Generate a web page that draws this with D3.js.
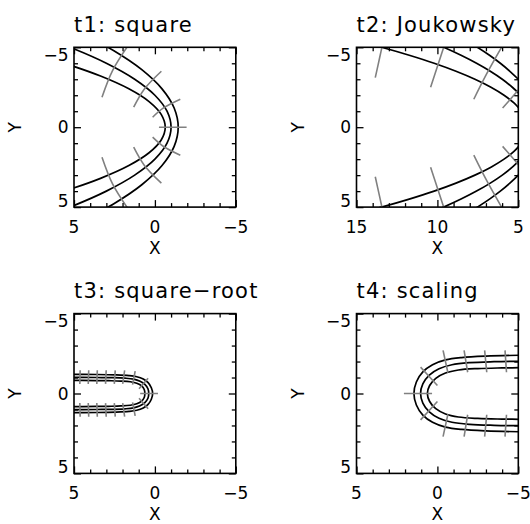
<!DOCTYPE html>
<html>
<head>
<meta charset="utf-8">
<script src="https://cdn.jsdelivr.net/npm/d3@7"></script>
<style>
  body { margin: 0; background: #fff; }
  svg { display: block; }
  text { font-family: "DejaVu Sans", sans-serif; fill: #000; }
</style>
</head>
<body>
<svg id="chart" width="530" height="524"></svg>
<script>
// ---- data ----

const titles = ['t1: square', 't2: Joukowsky', 't3: square\u2212root', 't4: scaling']
const xDomains = [[5, -5], [15, 5], [5, -5], [5, -5]]
const xMajor = [[5, 0, -5], [15, 10, 5], [5, 0, -5], [5, 0, -5]]
const yDomain = [-5, 5]
const yMajor = [-5, 0, 5]

// black curves, [x, y] in data units
const p1Curves = [
  [[8.36,-4.8],[5.61,-4],[3.36,-3.2],[1.61,-2.4],[0.36,-1.6],[-0.39,-0.8],[-0.64,0],[-0.39,0.8],[0.36,1.6],[1.61,2.4],[3.36,3.2],[5.61,4],[8.36,4.8]],
  [[8,-6],[5.25,-5],[3,-4],[1.25,-3],[0,-2],[-0.75,-1],[-1,0],[-0.75,1],[0,2],[1.25,3],[3,4],[5.25,5],[8,6]],
  [[4.81,-6],[2.56,-4.8],[0.81,-3.6],[-0.44,-2.4],[-1.19,-1.2],[-1.44,0],[-1.19,1.2],[-0.44,2.4],[0.81,3.6],[2.56,4.8],[4.81,6]]
]
const p2Curves = [
  [[15.34,-5.5],[13.45,-5],[11.74,-4.5],[10.2,-4],[8.85,-3.5],[7.68,-3],[6.69,-2.5],[5.88,-2],[5.25,-1.5],[4.8,-1]],
  [[15.34,5.5],[13.45,5],[11.74,4.5],[10.2,4],[8.85,3.5],[7.68,3],[6.69,2.5],[5.88,2],[5.25,1.5],[4.8,1]],
  [[10.8,-5.5],[9.61,-5],[8.54,-4.5],[7.58,-4],[6.73,-3.5],[5.99,-3],[5.37,-2.5],[4.86,-2],[4.47,-1.5]],
  [[10.8,5.5],[9.61,5],[8.54,4.5],[7.58,4],[6.73,3.5],[5.99,3],[5.37,2.5],[4.86,2],[4.47,1.5]],
  [[8.36,-5.5],[7.53,-5],[6.78,-4.5],[6.11,-4],[5.52,-3.5],[5,-3],[4.57,-2.5]],
  [[8.36,5.5],[7.53,5],[6.78,4.5],[6.11,4],[5.52,3.5],[5,3],[4.57,2.5]]
]
const p3Curves = [
  [[5.5,-1.2],[3.6,-1.19],[2.4,-1.165],[1.6,-1.12],[1.12,-1.05],[0.72,-0.9],[0.42,-0.68],[0.22,-0.36],[0.14,0],[0.22,0.36],[0.42,0.68],[0.72,0.9],[1.12,1.05],[1.6,1.12],[2.4,1.165],[3.6,1.19],[5.5,1.2]],
  [[5.5,-1.01],[3.6,-1],[2.6,-0.99],[1.85,-0.96],[1.32,-0.9],[0.92,-0.77],[0.62,-0.57],[0.43,-0.3],[0.38,0],[0.43,0.3],[0.62,0.57],[0.92,0.77],[1.32,0.9],[1.85,0.96],[2.6,0.99],[3.6,1],[5.5,1.01]],
  [[5.5,-0.82],[3.6,-0.81],[2.85,-0.8],[2.1,-0.78],[1.52,-0.735],[1.12,-0.64],[0.82,-0.475],[0.66,-0.25],[0.62,0],[0.66,0.25],[0.82,0.475],[1.12,0.64],[1.52,0.735],[2.1,0.78],[2.85,0.8],[3.6,0.81],[5.5,0.82]]
]
const p4Curves = [
  [[-5.5,-2.4],[-3,-2.34],[-1.5,-2.25],[-0.5,-2.1],[0.3,-1.8],[0.9,-1.35],[1.3,-0.72],[1.45,0],[1.3,0.72],[0.9,1.35],[0.3,1.8],[-0.5,2.1],[-1.5,2.25],[-3,2.34],[-5.5,2.4]],
  [[-5.5,-2.02],[-3.5,-1.99],[-2,-1.93],[-0.9,-1.8],[-0.1,-1.55],[0.5,-1.15],[0.9,-0.6],[1.04,0],[0.9,0.6],[0.5,1.15],[-0.1,1.55],[-0.9,1.8],[-2,1.93],[-3.5,1.99],[-5.5,2.02]],
  [[-5.5,-1.62],[-4,-1.6],[-2.5,-1.56],[-1.3,-1.47],[-0.5,-1.28],[0.1,-0.95],[0.48,-0.5],[0.62,0],[0.48,0.5],[0.1,0.95],[-0.5,1.28],[-1.3,1.47],[-2.5,1.56],[-4,1.6],[-5.5,1.62]]
]

// grey cross segments
const p1Ticks = [
  [[-0.25,0],[-1.1,0],[-1.96,0]],
  [[0.14,-0.625],[-0.51,-1.19],[-1.57,-1.75]],
  [[0.14,0.625],[-0.51,1.19],[-1.57,1.75]],
  [[1.31,-1.25],[0.66,-2.375],[-0.4,-3.5]],
  [[1.31,1.25],[0.66,2.375],[-0.4,3.5]],
  [[3.27,-1.875],[2.61,-3.56],[1.56,-5.25]],
  [[3.27,1.875],[2.61,3.56],[1.56,5.25]]
]
const p2Ticks = [
  [[13.84,-3.1],[13.58,-4.3],[13.32,-5.5]],
  [[13.84,3.1],[13.58,4.3],[13.32,5.5]],
  [[10.42,-2.5],[10.0,-3.8],[9.45,-5.5]],
  [[10.42,2.5],[10.0,3.8],[9.45,5.5]],
  [[7.75,-1.75],[6.95,-3.35],[5.75,-5.5]],
  [[7.75,1.75],[6.95,3.35],[5.75,5.5]],
  [[5.97,-1.2],[5.45,-1.8],[4.6,-2.8]],
  [[5.97,1.2],[5.45,1.8],[4.6,2.8]]
]
const p3Ticks = [
  [[0.91,0],[-0.19,0]],
  [[0.98,-0.3],[0.42,-0.95]], [[0.98,0.3],[0.42,0.95]],
  [[1.38,-0.55],[1.22,-1.4]], [[1.38,0.55],[1.22,1.4]],
  [[1.99,-0.6],[1.87,-1.45]], [[1.99,0.6],[1.87,1.45]],
  [[2.51,-0.6],[2.45,-1.45]], [[2.51,0.6],[2.45,1.45]],
  [[3.05,-0.6],[3.01,-1.45]], [[3.05,0.6],[3.01,1.45]],
  [[3.59,-0.6],[3.56,-1.45]], [[3.59,0.6],[3.56,1.45]],
  [[4.12,-0.6],[4.09,-1.45]], [[4.12,0.6],[4.09,1.45]],
  [[4.64,-0.6],[4.62,-1.45]], [[4.64,0.6],[4.62,1.45]]
]
const p4Ticks = [
  [[2.07,0],[0.33,0]],
  [[1.04,-1.65],[0.0,-0.5]], [[1.04,1.65],[0.0,0.5]],
  [[-0.35,-2.7],[-0.65,-1.3]], [[-0.35,2.7],[-0.65,1.3]],
  [[-1.65,-2.7],[-1.87,-1.33]], [[-1.65,2.7],[-1.87,1.33]],
  [[-2.92,-2.7],[-3.05,-1.33]], [[-2.92,2.7],[-3.05,1.33]],
  [[-4.18,-2.7],[-4.27,-1.33]], [[-4.18,2.7],[-4.27,1.33]]
]

const curves = [p1Curves, p2Curves, p3Curves, p4Curves]
const crossings = [p1Ticks, p2Ticks, p3Ticks, p4Ticks]

// ---- layout ----

const boxLeft = [74, 356.5]
const boxTop = [47.3, 313.6]
const boxW = 161.8
const boxH = 159.8

const svg = d3.select('#chart')

const drawPanel = i => {
  const col = i % 2
  const row = Math.floor(i / 2)

  const g = svg.append('g')
    .attr('transform', `translate(${boxLeft[col]},${boxTop[row]})`)

  const x = d3.scaleLinear().domain(xDomains[i]).range([0, boxW])
  const y = d3.scaleLinear().domain(yDomain).range([0, boxH])

  // clip everything to the plot box
  const clipId = 'clip' + i
  g.append('clipPath').attr('id', clipId)
    .append('rect').attr('width', boxW).attr('height', boxH)

  const line = d3.line()
    .x(d => x(d[0]))
    .y(d => y(d[1]))
    .curve(d3.curveCatmullRom.alpha(0.5))

  const plot = g.append('g').attr('clip-path', `url(#${clipId})`)

  plot.selectAll('.curve')
    .data(curves[i])
    .enter()
    .append('path')
    .attr('class', 'curve')
    .attr('d', line)
    .attr('fill', 'none')
    .attr('stroke', '#000')
    .attr('stroke-width', 1.7)

  plot.selectAll('.cross')
    .data(crossings[i])
    .enter()
    .append('path')
    .attr('class', 'cross')
    .attr('d', line)
    .attr('fill', 'none')
    .attr('stroke', '#808080')
    .attr('stroke-width', 1.6)

  // IDL style ticks: inward, on all four sides
  const minorX = x.ticks(10).filter(v => !xMajor[i].includes(v))
  const minorY = y.ticks(10).filter(v => !yMajor.includes(v))

  const addAxis = (axis, tx, ty) => {
    g.append('g')
      .attr('transform', `translate(${tx},${ty})`)
      .call(axis.tickFormat(''))
      .call(a => a.select('.domain').remove())
      .call(a => a.selectAll('line').attr('stroke', '#000').attr('stroke-width', 1.3))
  }
  addAxis(d3.axisBottom(x).tickValues(minorX).tickSize(-4), 0, boxH)
  addAxis(d3.axisTop(x).tickValues(minorX).tickSize(-4), 0, 0)
  addAxis(d3.axisBottom(x).tickValues(xMajor[i]).tickSize(-7), 0, boxH)
  addAxis(d3.axisTop(x).tickValues(xMajor[i]).tickSize(-7), 0, 0)
  addAxis(d3.axisLeft(y).tickValues(minorY).tickSize(-4), 0, 0)
  addAxis(d3.axisRight(y).tickValues(minorY).tickSize(-4), boxW, 0)
  addAxis(d3.axisLeft(y).tickValues(yMajor).tickSize(-7), 0, 0)
  addAxis(d3.axisRight(y).tickValues(yMajor).tickSize(-7), boxW, 0)

  g.append('rect')
    .attr('width', boxW)
    .attr('height', boxH)
    .attr('fill', 'none')
    .attr('stroke', '#000')
    .attr('stroke-width', 1.6)

  const fmt = v => v < 0 ? '\u2212' + Math.abs(v) : String(v)

  g.selectAll('.xlab')
    .data(xMajor[i])
    .enter()
    .append('text')
    .attr('x', d => x(d))
    .attr('y', boxH + 26)
    .attr('text-anchor', 'middle')
    .attr('font-size', 17)
    .text(fmt)

  // edge labels are kept inside the axis range, as IDL does
  g.selectAll('.ylab')
    .data(yMajor)
    .enter()
    .append('text')
    .attr('x', -5.5)
    .attr('y', d => Math.min(Math.max(y(d) + 6.2, 13.5), boxH))
    .attr('text-anchor', 'end')
    .attr('font-size', 17)
    .text(fmt)

  g.append('text')
    .attr('x', boxW / 2)
    .attr('y', boxH + 47)
    .attr('text-anchor', 'middle')
    .attr('font-size', 17)
    .text('X')

  g.append('text')
    .attr('transform', `translate(${-52.8},${boxH / 2}) rotate(-90)`)
    .attr('text-anchor', 'middle')
    .attr('font-size', 17)
    .text('Y')

  g.append('text')
    .attr('x', 0)
    .attr('y', -15.6)
    .attr('font-size', 21)
    .attr('letter-spacing', 1.2)
    .text(titles[i])
}

d3.range(4).forEach(drawPanel)
</script>
</body>
</html>
